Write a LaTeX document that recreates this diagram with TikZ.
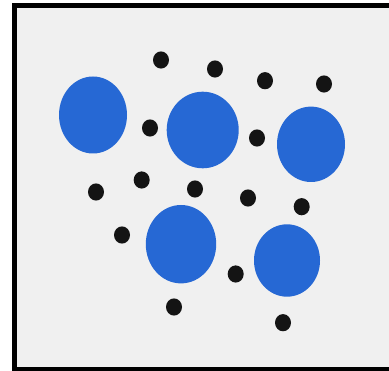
\documentclass[tikz,border=0pt]{standalone}
\definecolor{bgfill}{RGB}{240,240,240}
\definecolor{blobblue}{RGB}{38,104,212}
\tikzset{
  blob/.style={fill=blobblue, draw=none},
  dot/.style={fill=black!92, draw=none},
}
\begin{document}
\begin{tikzpicture}[x=1pt,y=-1pt]
\useasboundingbox (0,0) rectangle (389,371);
% frame (right side cropped)
\fill[black] (12,3.3) rectangle (389,371);
\fill[bgfill] (17.3,8.3) rectangle (389,366.7);
% blue circles
\fill[blob] (93,115) ellipse [x radius=34, y radius=38.5];
\fill[blob] (202.7,130) ellipse [x radius=36, y radius=38.3];
\fill[blob] (311,144.3) ellipse [x radius=34, y radius=37.7];
\fill[blob] (181,244.2) ellipse [x radius=35.2, y radius=39.2];
\fill[blob] (287,260.5) ellipse [x radius=33, y radius=36.2];
% black dots
\foreach \px/\py in {161/60, 215/69, 265/80.7, 324/84, 150/128, 257/138,
  141.7/180, 96/192, 195/189, 248/198, 301.7/206.7, 122/235, 235.7/274,
  174/307, 283/322.7}
  \fill[dot] (\px,\py) ellipse [x radius=8, y radius=8.6];
\end{tikzpicture}
\end{document}
